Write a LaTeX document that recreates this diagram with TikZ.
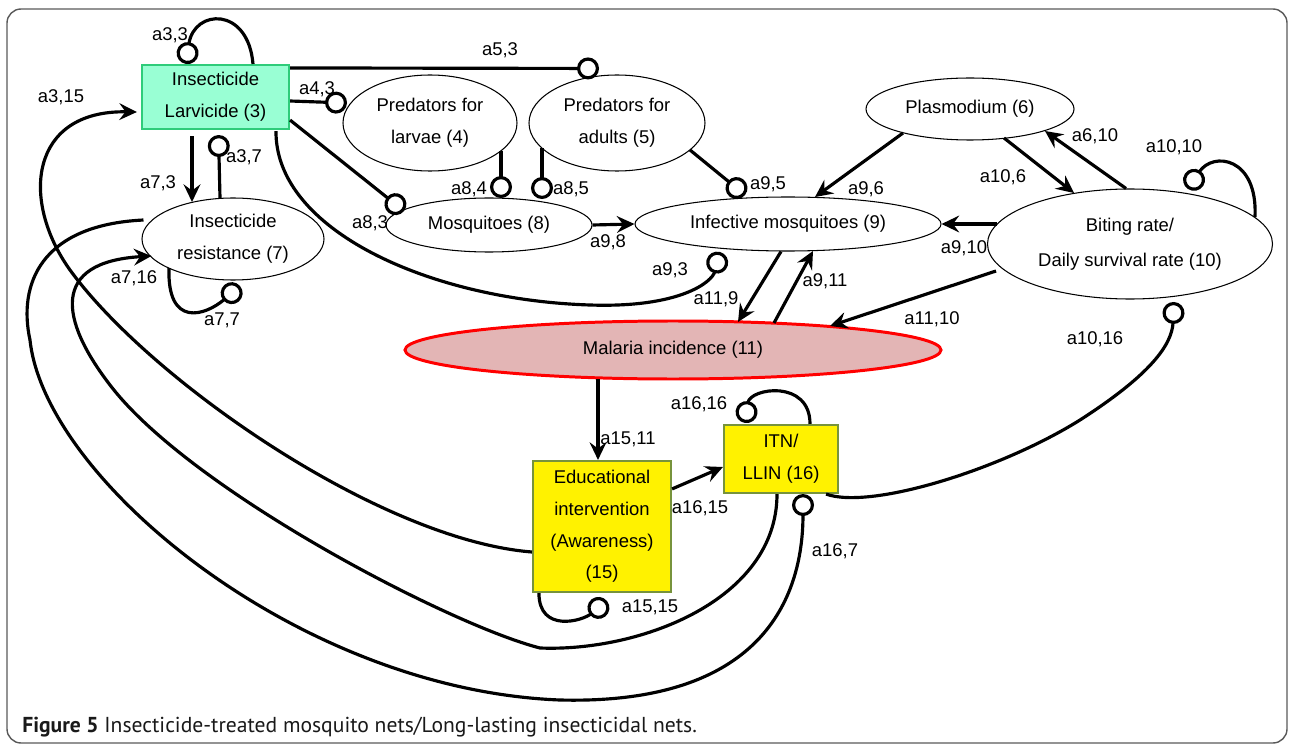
\documentclass[tikz,border=0pt]{standalone}
\usepackage{fontspec}
\setmainfont{Liberation Sans}
\newfontfamily\capfont{PT Sans}
\usetikzlibrary{arrows.meta,shapes.geometric,calc}
\tikzset{>={Stealth[length=10pt,width=9.5pt,inset=3.5pt]}}
\definecolor{mint}{RGB}{153,255,212}
\definecolor{mintline}{RGB}{46,204,122}
\definecolor{olive}{RGB}{119,147,60}
\definecolor{rose}{RGB}{227,181,181}

\begin{document}
\begin{tikzpicture}[x=0.2mm,y=-0.2mm,font=\fontsize{10.5}{18}\selectfont,
  ell/.style={draw,ellipse,line width=0.6pt,inner sep=0pt,align=center},
  sq/.style={draw,rectangle,inner sep=0pt,align=center,line width=1.2pt},
  con/.style={line width=1.8pt},
  inh/.style={con,-{Circle[open,length=12.5pt,width=12.5pt]}},
  act/.style={con,->},
  lab/.style={inner sep=0pt}]
\useasboundingbox (0,0) rectangle (1289,746);
\draw[black!65,line width=0.8pt,rounded corners=8pt] (7,9) rectangle (1287,743);

\node[sq,fill=mint,draw=mintline,minimum width=29.4mm,minimum height=12.8mm] (ins) at (215.5,97) {Insecticide\\Larvicide (3)};
\node[ell,minimum width=34.8mm,minimum height=19.2mm] (pl) at (430,123) {Predators for\\larvae (4)};
\node[ell,minimum width=35.2mm,minimum height=19.2mm] (pa) at (617,123) {Predators for\\adults (5)};
\node[ell,minimum width=41.6mm,minimum height=12.4mm] (pla) at (970,109) {Plasmodium (6)};
\node[ell,minimum width=36.4mm,minimum height=16.4mm] (res) at (233,239) {Insecticide\\resistance (7)};
\node[ell,minimum width=41.2mm,minimum height=10.8mm] (mos) at (489,225) {Mosquitoes (8)};
\node[ell,minimum width=61.2mm,minimum height=10.8mm] (inf) at (788,224) {Infective mosquitoes (9)};
\node[ell,minimum width=57mm,minimum height=22mm] (bit) at (1130,244) {Biting rate/\\[2pt]Daily survival rate (10)};
\node[ell,fill=rose,draw=red,line width=1.7pt,minimum width=107.2mm,minimum height=11.6mm] (mal) at (673,350) {Malaria incidence (11)};
\node[sq,fill=yellow,draw=olive,minimum width=27.6mm,minimum height=26.2mm] (edu) at (602,526.5) {Educational\\intervention\\(Awareness)\\(15)};
\node[sq,fill=yellow,draw=olive,minimum width=22.8mm,minimum height=13.6mm] (itn) at (781,459) {ITN/\\LLIN (16)};

\draw[inh] ($(ins.north)+(37.5,0)$) .. controls +(-5,-58) and +(8,-55) .. ($(ins.north)+(-29.5,0)$);
\draw[inh] ($(ins.north east)+(0,4)$) -- ($(pa.north)+(-18,-6)$);
\draw[inh] ($(ins.east)+(0,4)$) -- ($(pl)+(-83,-20)$);
\draw[inh] ($(ins.south east)+(0,-10)$) -- ($(mos)+(-85,-14)$);
\draw[inh] ($(ins.south)+(60.5,1)$) .. controls (275,230) and (430,300) .. (590,305) .. controls (680,308) and (712,282) .. ($(inf)+(-68,28)$);
\draw[act] ($(ins.south)+(-23.5,6)$) -- ($(res)+(-41,-37)$);
\draw[inh] ($(res)+(-13,-41)$) -- ($(ins.south)+(3,5)$);
\draw[inh] ($(res)+(-64,29)$) .. controls +(-2,60) and +(-35,30) .. ($(res)+(7,47)$);
\draw[act] ($(itn.south)+(-4,0)$) .. controls (777,600) and (640,652) .. (540,648) .. controls (450,625) and (190,490) .. (110,385) .. controls (60,320) and (50,262) .. ($(res.west)+(10,17)$);
\draw[inh] ($(res.west)+(2,-19)$) .. controls (40,225) and (18,285) .. (30,340) .. controls (45,480) and (300,690) .. (560,700) .. controls (760,705) and (803,600) .. ($(itn.south)+(22,0)$);
\draw[act] ($(edu.west)+(0,25.5)$) .. controls (380,540) and (150,380) .. (70,270) .. controls (20,200) and (30,110) .. ($(ins.west)+(-4,15)$);
\draw[act] ($(mal.south)+(-75,-1)$) -- ($(edu.north)+(-4,0)$);
\draw[act] ($(edu.north east)+(0,29)$) -- ($(itn.west)+(0,8)$);
\draw[inh] ($(itn.north)+(29,0)$) .. controls +(0,-45) and +(5,-35) .. ($(itn.north)+(-36,-1)$);
\draw[inh] ($(edu.south west)+(7,0)$) .. controls +(0,40) and +(-25,20) .. ($(edu.south)+(5,8)$);
\draw[inh] ($(itn.south east)+(-13,0)$) .. controls (870,510) and (1000,470) .. (1080,420) .. controls (1150,375) and (1172,345) .. ($(bit)+(44,58)$);
\draw[inh] ($(pa)+(73,27)$) -- ($(inf)+(-43,-29)$);
\draw[inh] ($(pl)+(71,28)$) -- ($(mos)+(12,-27)$);
\draw[inh] ($(pa)+(-75,25)$) -- ($(mos)+(53,-26)$);
\draw[act] (mos.east) -- (inf.west);
\draw[act] ($(pla)+(-67,24)$) -- ($(inf)+(27,-27)$);
\draw[act] ($(pla)+(34,29)$) -- ($(bit)+(-56,-51)$);
\draw[act] ($(bit.north)+(-4,0)$) -- ($(pla)+(75,22)$);
\draw[inh] ($(bit)+(125,-27)$) .. controls +(3,-60) and +(25,-38) .. ($(bit)+(58,-55)$);
\draw[act] ($(bit)+(-133,-20)$) -- (inf.east);
\draw[act] ($(bit)+(-134,27)$) -- ($(mal)+(157,-24)$);
\draw[act] ($(inf.south)+(-7,0)$) -- ($(mal)+(65,-28)$);
\draw[act] ($(mal)+(101,-27)$) -- ($(inf)+(25,27)$);

\node[lab] (l33) at (170,35) {a3,3};
\node[lab] (l53) at (500,50) {a5,3};
\node[lab] (l43) at (317,89) {a4,3};
\node[lab] (l83) at (370,223) {a8,3};
\node[lab] (l93) at (670,270) {a9,3};
\node[lab] (l73) at (158,183) {a7,3};
\node[lab] (l37) at (244,157) {a3,7};
\node[lab] (l77) at (222,320) {a7,7};
\node[lab] (l716) at (134,278) {a7,16};
\node[lab] (l315) at (61,97) {a3,15};
\node[lab] (l1511) at (628,439) {a15,11};
\node[lab] (l1615) at (700,508) {a16,15};
\node[lab] (l1616) at (699,404) {a16,16};
\node[lab] (l1515) at (650,607) {a15,15};
\node[lab] (l167) at (835,551) {a16,7};
\node[lab] (l1016) at (1095,339) {a10,16};
\node[lab] (l95) at (768,184) {a9,5};
\node[lab] (l84) at (469,189) {a8,4};
\node[lab] (l85) at (571,189) {a8,5};
\node[lab] (l98) at (608,242) {a9,8};
\node[lab] (l96) at (866,189) {a9,6};
\node[lab] (l106) at (1003,177) {a10,6};
\node[lab] (l610) at (1095,136) {a6,10};
\node[lab] (l1010) at (1174,147) {a10,10};
\node[lab] (l910) at (964,248) {a9,10};
\node[lab] (l1110) at (932,319) {a11,10};
\node[lab] (l119) at (716,299) {a11,9};
\node[lab] (l911) at (825,281) {a9,11};

\node[lab,anchor=base west,font=\capfont\fontsize{12.3}{14}\selectfont,text=black!90] (cap) at (22,732) {\textbf{Figure 5} Insecticide-treated mosquito nets/Long-lasting insecticidal nets.};
\end{tikzpicture}
\end{document}
